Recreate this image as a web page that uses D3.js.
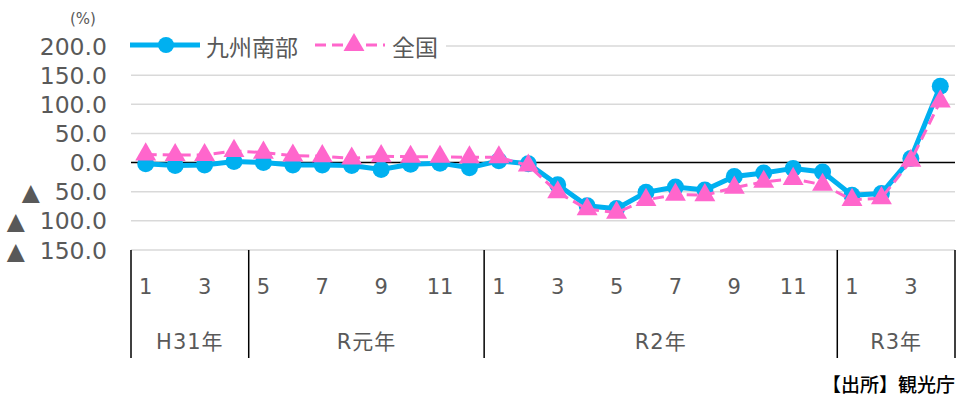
<!DOCTYPE html>
<html>
<head>
<meta charset="utf-8">
<script src="https://cdn.jsdelivr.net/npm/d3@7/dist/d3.min.js"></script>
<style>
  body { margin: 0; background: #fff; }
  text { font-family: "DejaVu Sans", "Noto Sans CJK JP", sans-serif; }
</style>
</head>
<body>
<div id="chart-container"></div>
<script>
// month labels (only odd ones are drawn), year groups, and the two series
const months = [1,2,3,4, 5,6,7,8,9,10,11,12, 1,2,3,4,5,6,7,8,9,10,11,12, 1,2,3,4]
const yearLabels = ["H31年", "R元年", "R2年", "R3年"]
const yearCounts = [4, 8, 12, 4]
const kyushu = [-2, -5, -4, 2, 0, -4, -4, -5, -12, -3, -1, -9,
  3, -2, -38, -74, -79, -51, -42, -47, -24, -18, -10, -16,
  -56, -53, 7, 131]
const zenkoku = [14, 13, 13, 20, 17, 12, 11, 7, 11, 10, 10, 9,
  9, -5, -51, -80, -86, -64, -55, -56, -43, -33, -28, -38,
  -64, -61, 3, 105]
const yTicks = [200, 150, 100, 50, 0, -50, -100, -150]

const W = 964, H = 401
const margin = { top: 46, right: 9, bottom: 151, left: 131 }
const width = W - margin.left - margin.right
const height = H - margin.top - margin.bottom

const svg = d3.select("#chart-container")
  .append("svg")
  .attr("width", W)
  .attr("height", H)

const g = svg.append("g")
  .attr("transform", `translate(${margin.left},${margin.top})`)

const x = d3.scaleBand()
  .domain(d3.range(months.length))
  .range([0, width])

const y = d3.scaleLinear()
  .domain([-150, 200])
  .range([height, 0])

// gridlines
g.selectAll(".grid")
  .data(yTicks.filter(d => d !== 0))
  .enter().append("line")
  .attr("x1", 0).attr("x2", width)
  .attr("y1", d => y(d)).attr("y2", d => y(d))
  .attr("stroke", "#d9d9d9")
  .attr("stroke-width", 1.5)

// zero line
g.append("line")
  .attr("x1", 0).attr("x2", width)
  .attr("y1", y(0)).attr("y2", y(0))
  .attr("stroke", "#000")
  .attr("stroke-width", 1.5)

// y tick labels (negatives shown with ▲)
g.selectAll(".ylab")
  .data(yTicks)
  .enter().append("text")
  .attr("x", -24)
  .attr("y", d => y(d) + 8.5)
  .attr("text-anchor", "end")
  .attr("fill", "#595959")
  .style("font-size", "23.5px")
  .text(d => d < 0 ? "▲\u00a0\u00a0" + (-d).toFixed(1) : d.toFixed(1))

svg.append("text")
  .attr("x", 70).attr("y", 24)
  .attr("fill", "#595959")
  .style("font-size", "15px")
  .text("(%)")

// x axis: group separators, month labels, year labels
const bounds = [0]
yearCounts.forEach(n => bounds.push(bounds[bounds.length - 1] + n))
const bx = i => i === months.length ? width : x(i)

g.selectAll(".sep")
  .data(bounds)
  .enter().append("line")
  .attr("x1", d => bx(d))
  .attr("x2", d => bx(d))
  .attr("y1", height)
  .attr("y2", height + 108)
  .attr("stroke", "#000")
  .attr("stroke-width", 1.5)

g.selectAll(".mlab")
  .data(months.map((m, i) => ({ m, i })).filter(d => d.i % 2 === 0))
  .enter().append("text")
  .attr("x", d => x(d.i) + x.bandwidth() / 2)
  .attr("y", height + 44)
  .attr("text-anchor", "middle")
  .attr("fill", "#595959")
  .style("font-size", "21px")
  .text(d => d.m)

g.selectAll(".ylab2")
  .data(yearLabels)
  .enter().append("text")
  .attr("x", (d, i) => (bx(bounds[i]) + bx(bounds[i + 1])) / 2)
  .attr("y", height + 99)
  .attr("text-anchor", "middle")
  .attr("fill", "#595959")
  .style("font-size", "21px")
  .style("letter-spacing", "1px")
  .text(d => d)

// lines
const line = d3.line()
  .x((d, i) => x(i) + x.bandwidth() / 2)
  .y(d => y(d))

const tri = d3.symbol().type(d3.symbolTriangle).size(190)

g.append("path")
  .datum(kyushu)
  .attr("d", line)
  .attr("fill", "none")
  .attr("stroke", "#00b0f0")
  .attr("stroke-width", 5)

g.selectAll(".dot")
  .data(kyushu)
  .enter().append("circle")
  .attr("cx", (d, i) => x(i) + x.bandwidth() / 2)
  .attr("cy", d => y(d))
  .attr("r", 8.5)
  .attr("fill", "#00b0f0")

g.append("path")
  .datum(zenkoku)
  .attr("d", line)
  .attr("fill", "none")
  .attr("stroke", "#ff66cc")
  .attr("stroke-width", 3)
  .attr("stroke-dasharray", "11,6")

g.selectAll(".tri")
  .data(zenkoku)
  .enter().append("path")
  .attr("d", tri)
  .attr("transform", (d, i) => `translate(${x(i) + x.bandwidth() / 2},${y(d)})`)
  .attr("fill", "#ff66cc")

// legend
const leg = svg.append("g")
leg.append("rect")
  .attr("x", 124).attr("y", 28).attr("width", 322).attr("height", 36)
  .attr("fill", "#fff")
leg.append("line")
  .attr("x1", 130).attr("x2", 200).attr("y1", 45).attr("y2", 45)
  .attr("stroke", "#00b0f0").attr("stroke-width", 5)
leg.append("circle")
  .attr("cx", 166).attr("cy", 45).attr("r", 8)
  .attr("fill", "#00b0f0")
leg.append("text")
  .attr("x", 206).attr("y", 56)
  .attr("fill", "#595959")
  .style("font-size", "23px")
  .style("font-family", "'Noto Sans CJK JP', sans-serif")
  .text("九州南部")
leg.append("line")
  .attr("x1", 315).attr("x2", 385).attr("y1", 45).attr("y2", 45)
  .attr("stroke", "#ff66cc").attr("stroke-width", 3)
  .attr("stroke-dasharray", "11,6")
leg.append("path")
  .attr("d", tri)
  .attr("transform", "translate(354,45)")
  .attr("fill", "#ff66cc")
leg.append("text")
  .attr("x", 392).attr("y", 56)
  .attr("fill", "#595959")
  .style("font-size", "23px")
  .style("font-family", "'Noto Sans CJK JP', sans-serif")
  .text("全国")

// source note
svg.append("text")
  .attr("x", 955).attr("y", 392)
  .attr("text-anchor", "end")
  .attr("fill", "#000")
  .style("font-size", "19px")
  .style("font-family", "'Noto Sans CJK JP', sans-serif")
  .style("font-weight", "500")
  .text("【出所】観光庁")
</script>
</body>
</html>
